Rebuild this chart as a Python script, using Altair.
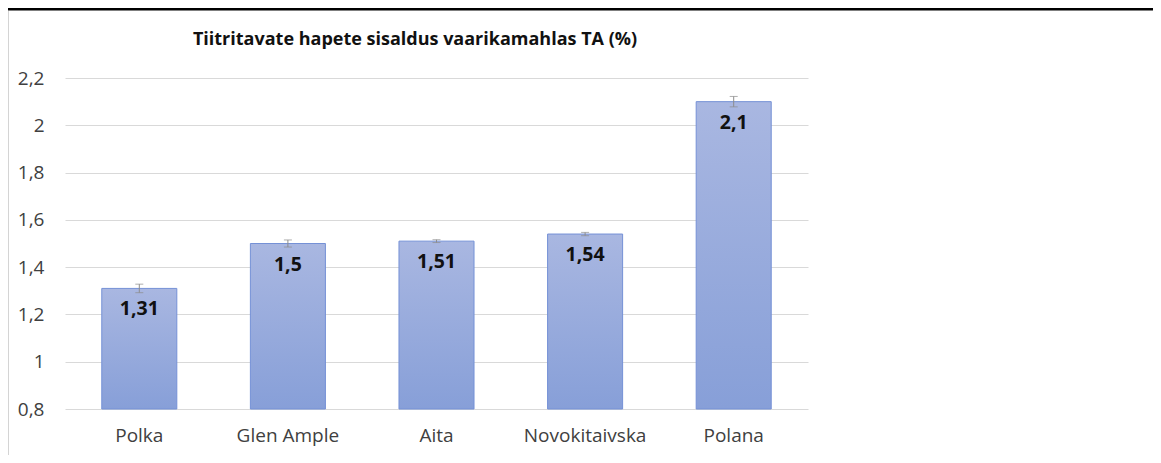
import altair as alt
import pandas as pd

categories = ["Polka", "Glen Ample", "Aita", "Novokitaivska", "Polana"]
values = [1.31, 1.5, 1.51, 1.54, 2.1]
errors = [0.018, 0.015, 0.006, 0.007, 0.022]
labels = ["1,31", "1,5", "1,51", "1,54", "2,1"]
y_ticks = [0.8, 1.0, 1.2, 1.4, 1.6, 1.8, 2.0, 2.2]
title_text = "Tiitritavate hapete sisaldus vaarikamahlas TA (%)"

df = pd.DataFrame({"cat": categories, "val": values, "err": errors, "label": labels})
df["lo"] = df["val"] - df["err"]
df["hi"] = df["val"] + df["err"]
df["base"] = 0.8

FONT = "Open Sans"

x_axis = alt.Axis(
    title=None, labelAngle=0, ticks=False, domain=False, grid=False,
    labelFontSize=19, labelColor="#404040", labelPadding=17, labelFont=FONT,
)
y_axis = alt.Axis(
    title=None, values=y_ticks, grid=True, gridColor="#d9d9d9", domain=False, ticks=False,
    labelExpr="replace(format(datum.value, '.1~f'), '.', ',')",
    labelFontSize=19, labelColor="#404040", labelPadding=21, labelFont=FONT,
)
x_scale = alt.Scale(paddingInner=0.495, paddingOuter=0.2475)
y_scale = alt.Scale(domain=[0.8, 2.2], zero=False, nice=False)

def xe():
    return alt.X("cat:N", sort=categories, scale=x_scale, axis=x_axis)

def ye(field):
    return alt.Y(field, scale=y_scale, axis=y_axis)

base = alt.Chart(df)

bars = base.mark_bar(
    color=alt.Gradient(
        gradient="linear",
        stops=[alt.GradientStop(color="#a9b7e1", offset=0), alt.GradientStop(color="#879fd8", offset=1)],
        x1=0, x2=0, y1=0, y2=1,
    ),
    stroke="#7591d6",
    strokeWidth=1,
).encode(x=xe(), y=ye("val:Q"), y2="base:Q")

err_rule = base.mark_rule(color="#8c8c8c", strokeWidth=1).encode(
    x=xe(), y=ye("lo:Q"), y2="hi:Q"
)
cap_hi = base.mark_tick(color="#8c8c8c", thickness=1, size=8).encode(x=xe(), y=ye("hi:Q"))
cap_lo = base.mark_tick(color="#8c8c8c", thickness=1, size=8).encode(x=xe(), y=ye("lo:Q"))

text = base.mark_text(
    baseline="middle", dy=21, fontWeight="bold", fontSize=19.5, color="#111111", font=FONT
).encode(x=xe(), y=ye("val:Q"), text="label:N")

frame_data = alt.Data(values=[{"a": 1}])
top_line = alt.Chart(frame_data).mark_rule(color="#000000", strokeWidth=3).encode(
    x=alt.value(-57), x2=alt.value(1088), y=alt.value(-69)
)
left_line = alt.Chart(frame_data).mark_rule(color="#d4d4d4", strokeWidth=1).encode(
    x=alt.value(-56.5), y=alt.value(-67), y2=alt.value(380)
)
title_mark = alt.Chart(frame_data).mark_text(
    font=FONT, fontSize=18, fontWeight="bold", color="#111111", align="center", baseline="middle"
).encode(x=alt.value(350), y=alt.value(-38), text=alt.value(title_text))

chart = (
    alt.layer(bars, err_rule, cap_hi, cap_lo, text, top_line, left_line, title_mark)
    .properties(
        width=743,
        height=331,
        autosize=alt.AutoSizeParams(type="none"),
        padding={"left": 57, "top": 70, "right": 345, "bottom": 46},
        background="white",
    )
    .configure_view(strokeWidth=0, stroke="transparent")
)

chart.save("out.html", embed_options={"renderer": "svg", "actions": False})
